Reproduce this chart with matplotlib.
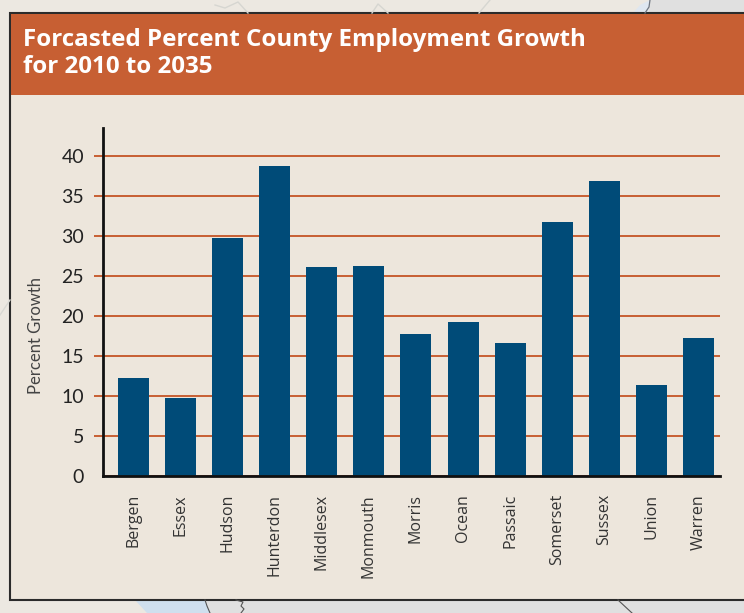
import matplotlib
matplotlib.use("Agg")
import matplotlib.pyplot as plt
from matplotlib.patches import Rectangle, Polygon

# Forecast employment growth by county, 2010 to 2035
counties = ["Bergen", "Essex", "Hudson", "Hunterdon", "Middlesex", "Monmouth", "Morris",
            "Ocean", "Passaic", "Somerset", "Sussex", "Union", "Warren"]
growth = [12.3, 9.8, 29.7, 38.8, 26.1, 26.3, 17.7, 19.3, 16.6, 31.7, 36.9, 11.4, 17.3]
y_ticks = [0, 5, 10, 15, 20, 25, 30, 35, 40]

W, H = 744, 613
ORANGE = "#c75f33"
BLUE = "#004b78"
PANEL = "#ede6dc"
MARGIN = "#ece8e1"
GREY = "#e0e0e0"
WATER = "#cfdfee"
INK = "#2b2b2b"

fig = plt.figure(figsize=(W / 100, H / 100), dpi=100, facecolor=MARGIN)

# page layer in pixel coordinates, y pointing down
bg = fig.add_axes([0, 0, 1, 1])
bg.set_xlim(0, W)
bg.set_ylim(H, 0)
bg.axis("off")

# bits of map showing around the panel
bg.add_patch(Rectangle((649, 0), 95, 14, fc=GREY, ec="none"))
bg.add_patch(Polygon([(633, 13), (640, 5), (650, 0), (648, 13)], fc="#dfe7f0", ec="none"))
bg.plot([650, 649, 645], [0, 7, 13], color="#6f7680", lw=0.9)
bg.add_patch(Rectangle((205, 600), 539, 13, fc=GREY, ec="none"))
bg.add_patch(Polygon([(135, 600), (205, 600), (210, 613), (147, 613)], fc=WATER, ec="none"))
bg.plot([205, 207, 210], [600, 606, 613], color="#555555", lw=0.8)
bg.plot([236, 243, 241, 244, 241], [600, 602, 606, 609, 613], color="#555555", lw=0.8)
bg.plot([618, 632], [600, 613], color="#555555", lw=0.8)
bg.plot([372, 378, 388], [13, 4, 13], color="#d6d6d1", lw=1)
bg.plot([479, 490], [13, 0], color="#d6d6d1", lw=1)
bg.plot([215, 225, 238, 248], [5, 8, 2, 13], color="#d6d6d1", lw=1)
bg.plot([0, 10], [315, 300], color="#d9d9d4", lw=1)

# panel and title band
bg.add_patch(Rectangle((10, 13), 740, 587, fc=PANEL, ec=INK, lw=1.5))
bg.add_patch(Rectangle((11, 14), 733, 81, fc=ORANGE, ec="none"))
bg.text(23, 40, "Forcasted Percent County Employment Growth", color="white", fontsize=17.35,
        fontweight="bold", family="Open Sans", va="center", ha="left")
bg.text(23, 67, "for 2010 to 2035", color="white", fontsize=17.35,
        fontweight="bold", family="Open Sans", va="center", ha="left")

# chart axes: y=0 at 476 px, 8 px per percent, spine at x=103
x_left, x_right, y_top, y_bottom = 103, 720, 128, 476
ax = fig.add_axes([x_left / W, 1 - y_bottom / H, (x_right - x_left) / W, (y_bottom - y_top) / H])
ax.patch.set_alpha(0)
ax.set_ylim(0, (y_bottom - y_top) / 8)
ax.set_xlim((x_left - 133.5) / 47.08, (x_right - 133.5) / 47.08)

ax.bar(range(len(counties)), growth, width=31 / 47.08, color=BLUE, zorder=3)

ax.yaxis.grid(True, color=ORANGE, lw=1.4, zorder=1)
ax.set_axisbelow(True)
ax.set_yticks(y_ticks)
ax.tick_params(axis="y", length=6.5, width=1.4, color=ORANGE, labelsize=14, pad=7, labelcolor="#222222")
ax.get_yticklines()[0].set_visible(False)
ax.set_xticks(range(len(counties)))
ax.set_xticklabels(counties, rotation=90, fontsize=11.5, family="Open Sans", color="#333333")
ax.tick_params(axis="x", length=0, pad=13)
for lab in ax.get_yticklabels():
    lab.set_family("Lato")

ax.spines["top"].set_visible(False)
ax.spines["right"].set_visible(False)
ax.spines["left"].set_linewidth(2)
ax.spines["bottom"].set_linewidth(2)
ax.spines["left"].set_color("#111111")
ax.spines["bottom"].set_color("#111111")
ax.spines["left"].set_zorder(4)
ax.spines["bottom"].set_zorder(4)

fig.text(36 / W, 1 - 336 / H, "Percent Growth", rotation=90, fontsize=12, family="Lato",
         color="#444444", va="center", ha="center")

fig.savefig("out.png", dpi=100, facecolor=fig.get_facecolor())
